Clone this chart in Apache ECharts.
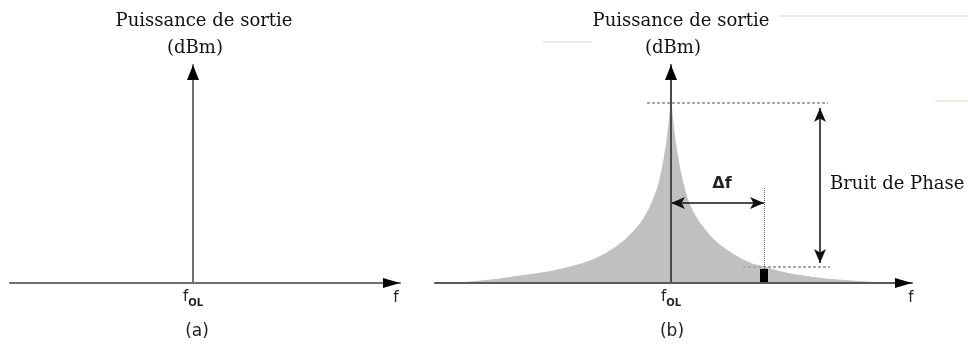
<!DOCTYPE html>
<html><head><meta charset="utf-8">
<script src="https://cdn.jsdelivr.net/npm/echarts@6/dist/echarts.min.js"></script>
<style>html,body{margin:0;padding:0;background:#fff}#c{width:968px;height:345px}</style>
</head><body><div id="c"></div>
<script>
// Frequency offset from f_OL (arbitrary units) and output power above floor (arbitrary units)
const xRangeA = [-183, 207];
const xRangeB = [-236, 241];
const yMax = 218;
const spectrumB = [
  [-212,0],[-195,1.5],[-175,3.5],[-158,6],[-140,8.5],[-120,11.5],[-101,16],[-88,19.5],
  [-76,24],[-65,29.5],[-55,36],[-46,43],[-38,51],[-31,59],[-25,68],[-19,80],[-14,93],[-11,104],
  [-8,118],[-6,130],[-4,143],[-2,160],[0,180],[2,160],[4,143],[6,130],[8,118],[11,104],[14,92],
  [17,82],[22,71],[28,61],[35,52],[41,45],[50,37],[60,30],[70,24],[81,19],[93,16],[105,12.5],
  [117,9.5],[135,6.5],[155,4],[180,2],[211,0]
];
const peakLevel = 180;
const deltaF = 93;
const noiseLevel = 16;
const deltaArrowLevel = 80;
const bruitX = 149;
const binHalfWidth = 4;
const binHeight = 14;
const centerLabel = ['f', 'OL'];
const axisName = 'f';
const titleLines = ['Puissance de sortie', '(dBm)'];
const panelLabels = ['(a)', '(b)'];

const chart = echarts.init(document.getElementById('c'), null, {renderer: 'canvas'});
const axisGray = '#707070';
function xAx(idx, range, col) {
  return {
    type: 'value', gridIndex: idx, min: range[0], max: range[1], z: 5,
    axisLine: {show: true, onZero: true, lineStyle: {color: col, width: 2}},
    axisTick: {show: false}, splitLine: {show: false},
    axisLabel: {
      show: true, customValues: [0], margin: 4,
      formatter: () => '{a|' + centerLabel[0] + '}{b|' + centerLabel[1] + '}',
      rich: {
        a: {fontFamily: 'DejaVu Sans', fontSize: 15, color: '#222', lineHeight: 18, verticalAlign: 'bottom'},
        b: {fontFamily: 'DejaVu Sans', fontSize: 10, fontWeight: 'bold', color: '#222', lineHeight: 14, verticalAlign: 'bottom', padding: [0,0,-3,0]}
      }
    }
  };
}
function yAx(idx, col) {
  return {
    type: 'value', gridIndex: idx, min: 0, max: yMax, z: 5,
    axisLine: {show: true, onZero: true, lineStyle: {color: col, width: 2}},
    axisTick: {show: false}, splitLine: {show: false}, axisLabel: {show: false}
  };
}
function arrows(idx, range) {
  return {
    type: 'scatter', xAxisIndex: idx, yAxisIndex: idx, z: 10, clip: false, silent: true,
    itemStyle: {color: '#000', opacity: 1},
    data: [
      {value: [range[1], 0], symbol: 'triangle', symbolSize: [10, 17], symbolRotate: -90, symbolOffset: [-8.5, 0]},
      {value: [0, yMax], symbol: 'triangle', symbolSize: [12, 15], symbolRotate: 0, symbolOffset: [0, 7.5]}
    ]
  };
}
const dashLight = {color: '#aaaaaa', width: 2, type: [3, 2]};
const option = {
  animation: false,
  backgroundColor: '#fff',
  grid: [
    {left: 10, top: 65, width: 390, height: 218},
    {left: 435, top: 65, width: 477, height: 218}
  ],
  xAxis: [xAx(0, xRangeA, axisGray), xAx(1, xRangeB, '#5a5a5a')],
  yAxis: [yAx(0, axisGray), yAx(1, '#4a4a4a')],
  series: [
    arrows(0, xRangeA),
    arrows(1, xRangeB),
    {
      type: 'line', xAxisIndex: 1, yAxisIndex: 1, z: 1, data: spectrumB,
      smooth: false, showSymbol: false, symbol: 'none',
      lineStyle: {width: 1, color: '#c0c0c0'},
      areaStyle: {color: '#c0c0c0', opacity: 1},
      markArea: {
        silent: true, z: 4,
        itemStyle: {color: '#000', opacity: 1, borderWidth: 0},
        data: [[{coord: [deltaF - binHalfWidth, 0]}, {coord: [deltaF + binHalfWidth, binHeight]}]]
      },
      markLine: {
        silent: true, z: 3, label: {show: false}, symbol: 'none',
        data: [
          [{coord: [-24, peakLevel], lineStyle: dashLight}, {coord: [157, peakLevel]}],
          [{coord: [72, noiseLevel], lineStyle: dashLight}, {coord: [159, noiseLevel]}],
          [{coord: [deltaF, binHeight], lineStyle: {color: '#666', width: 1, type: [1, 1]}}, {coord: [deltaF, 95]}],
          [{coord: [0, deltaArrowLevel], symbol: 'arrow', symbolSize: [9, 14], lineStyle: {color: '#111', width: 1.5, type: 'solid'}},
           {coord: [deltaF, deltaArrowLevel], symbol: 'arrow', symbolSize: [9, 14]}],
          [{coord: [bruitX, 175], symbol: 'arrow', symbolSize: [9, 14], lineStyle: {color: '#111', width: 1.5, type: 'solid'}},
           {coord: [bruitX, 20], symbol: 'arrow', symbolSize: [9, 14]}]
        ]
      }
    }
  ],
  graphic: [
    {type: 'line', shape: {x1: 778, y1: 16, x2: 968, y2: 16}, style: {stroke: '#efece6', lineWidth: 2}, silent: true},
    {type: 'line', shape: {x1: 543, y1: 42, x2: 592, y2: 42}, style: {stroke: '#efece6', lineWidth: 2}, silent: true},
    {type: 'line', shape: {x1: 935, y1: 101, x2: 968, y2: 101}, style: {stroke: '#efece6', lineWidth: 2}, silent: true},
    {type: 'text', x: 204, y: 21, style: {text: titleLines[0], font: '18px "DejaVu Serif"', fill: '#111', align: 'center', verticalAlign: 'middle'}},
    {type: 'text', x: 195, y: 48, style: {text: titleLines[1], font: '18px "DejaVu Serif"', fill: '#111', align: 'center', verticalAlign: 'middle'}},
    {type: 'text', x: 681, y: 21, style: {text: titleLines[0], font: '18px "DejaVu Serif"', fill: '#111', align: 'center', verticalAlign: 'middle'}},
    {type: 'text', x: 673, y: 48, style: {text: titleLines[1], font: '18px "DejaVu Serif"', fill: '#111', align: 'center', verticalAlign: 'middle'}},
    {type: 'text', x: 396, y: 298, style: {text: axisName, font: '15px "DejaVu Sans"', fill: '#222', align: 'center', verticalAlign: 'middle'}},
    {type: 'text', x: 911, y: 298, style: {text: axisName, font: '15px "DejaVu Sans"', fill: '#222', align: 'center', verticalAlign: 'middle'}},
    {type: 'text', x: 197, y: 332, style: {text: panelLabels[0], font: '17px "DejaVu Sans"', fill: '#222', align: 'center', verticalAlign: 'middle'}},
    {type: 'text', x: 672, y: 332, style: {text: panelLabels[1], font: '17px "DejaVu Sans"', fill: '#222', align: 'center', verticalAlign: 'middle'}},
    {type: 'text', x: 722, y: 184, style: {text: 'Δf', font: 'bold 16px "DejaVu Sans"', fill: '#222', align: 'center', verticalAlign: 'middle'}},
    {type: 'text', x: 830, y: 184, style: {text: 'Bruit de Phase', font: '18px "DejaVu Serif"', fill: '#111', align: 'left', verticalAlign: 'middle'}}
  ]
};
chart.setOption(option);
</script>
</body></html>
